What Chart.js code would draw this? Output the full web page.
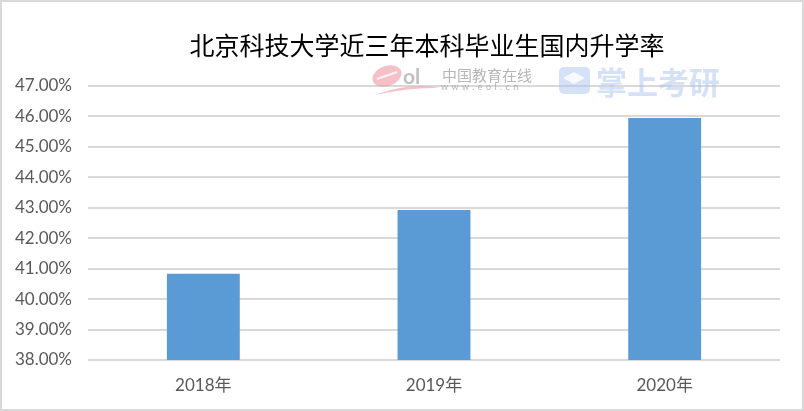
<!DOCTYPE html>
<html>
<head>
<meta charset="utf-8">
<style>
    html, body { margin: 0; padding: 0; background: #fff; }
    canvas { display: block; }
</style>
<script src="https://cdn.jsdelivr.net/npm/chart.js@4"></script>
</head>
<body>
<canvas id="rateChart" width="804" height="411"></canvas>
<script>
const chartTitle = '北京科技大学近三年本科毕业生国内升学率';
const years = ['2018年', '2019年', '2020年'];
const rates = [40.83, 42.93, 45.95];
const axisMin = 38;
const axisMax = 47;

const latinFont = 'Lato, "Noto Sans CJK SC", sans-serif';
const cjkFont = '"Noto Sans CJK SC", sans-serif';

// White page with the thin grey frame
const framePlugin = {
    id: 'frame',
    beforeDraw(chart) {
        const ctx = chart.ctx;
        ctx.save();
        ctx.fillStyle = '#ffffff';
        ctx.fillRect(0, 0, chart.width, chart.height);
        ctx.strokeStyle = '#d9d9d9';
        ctx.lineWidth = 2;
        ctx.strokeRect(1, 1, chart.width - 2, chart.height - 2);
        ctx.restore();
    }
};

// The title is not centred on the page in the original, so narrow its box
const titleShiftPlugin = {
    id: 'titleShift',
    afterLayout(chart) {
        chart.titleBlock.left = 74;
    }
};

// The two faint site logos that sit across the top of the plot
const watermarkPlugin = {
    id: 'watermark',
    afterDraw(chart) {
        const ctx = chart.ctx;
        ctx.save();
        ctx.textBaseline = 'middle';

        // eol swoosh
        ctx.fillStyle = 'rgba(240, 150, 165, 0.6)';
        ctx.beginPath();
        ctx.ellipse(387, 76, 15, 10, -0.35, 0, Math.PI * 2);
        ctx.fill();
        ctx.strokeStyle = 'rgba(255, 255, 255, 0.8)';
        ctx.lineWidth = 2;
        ctx.beginPath();
        ctx.moveTo(377, 79);
        ctx.lineTo(397, 72);
        ctx.stroke();
        ctx.beginPath();
        ctx.moveTo(375, 95);
        ctx.quadraticCurveTo(410, 82, 440, 88);
        ctx.quadraticCurveTo(410, 87, 375, 95);
        ctx.fill();
        ctx.fillStyle = 'rgba(150, 150, 150, 0.6)';
        ctx.font = 'bold 21px ' + latinFont;
        ctx.textAlign = 'left';
        ctx.fillText('ol', 403, 77);

        ctx.fillStyle = 'rgba(150, 150, 150, 0.7)';
        ctx.font = '15px ' + cjkFont;
        ctx.fillText('中国教育在线', 442, 75);
        ctx.font = '9px ' + latinFont;
        ctx.letterSpacing = '3.4px';
        ctx.fillText('www.eol.cn', 441, 87);
        ctx.letterSpacing = '0px';

        // 掌上考研 badge
        ctx.fillStyle = 'rgba(170, 195, 240, 0.5)';
        ctx.beginPath();
        ctx.roundRect(559, 67, 31, 27, 5);
        ctx.fill();
        ctx.fillStyle = 'rgba(255, 255, 255, 0.8)';
        ctx.beginPath();
        ctx.moveTo(574, 72);
        ctx.lineTo(585, 78);
        ctx.lineTo(574, 84);
        ctx.lineTo(563, 78);
        ctx.closePath();
        ctx.fill();
        ctx.fillStyle = 'rgba(170, 195, 240, 0.5)';
        ctx.font = 'bold 31px ' + cjkFont;
        ctx.fillText('掌上考研', 596, 82);
        ctx.restore();
    }
};

new Chart(document.getElementById('rateChart').getContext('2d'), {
    type: 'bar',
    data: {
        labels: years,
        datasets: [{
            data: rates,
            backgroundColor: '#5b9bd5',
            barPercentage: 0.316,
            categoryPercentage: 1
        }]
    },
    plugins: [framePlugin, titleShiftPlugin, watermarkPlugin],
    options: {
        responsive: false,
        animation: false,
        layout: { padding: { left: 0, right: 24, top: 0, bottom: 0 } },
        plugins: {
            legend: { display: false },
            tooltip: { enabled: false },
            title: {
                display: true,
                text: chartTitle,
                color: '#000000',
                font: { family: cjkFont, size: 25, weight: 'normal' },
                padding: { top: 30, bottom: 26 }
            }
        },
        scales: {
            x: {
                afterFit(scale) { scale.height = 51; },
                grid: { display: false },
                border: { display: false },
                ticks: {
                    color: '#595959',
                    padding: 7,
                    font: { family: latinFont, size: 17 }
                }
            },
            y: {
                min: axisMin,
                max: axisMax,
                afterFit(scale) { scale.width = 88; },
                grid: { color: '#d9d9d9', lineWidth: 2, drawTicks: false },
                border: { display: false },
                ticks: {
                    stepSize: 1,
                    color: '#595959',
                    padding: 16,
                    font: { family: latinFont, size: 17 },
                    callback: value => value.toFixed(2) + '%'
                }
            }
        }
    }
});
</script>
</body>
</html>
